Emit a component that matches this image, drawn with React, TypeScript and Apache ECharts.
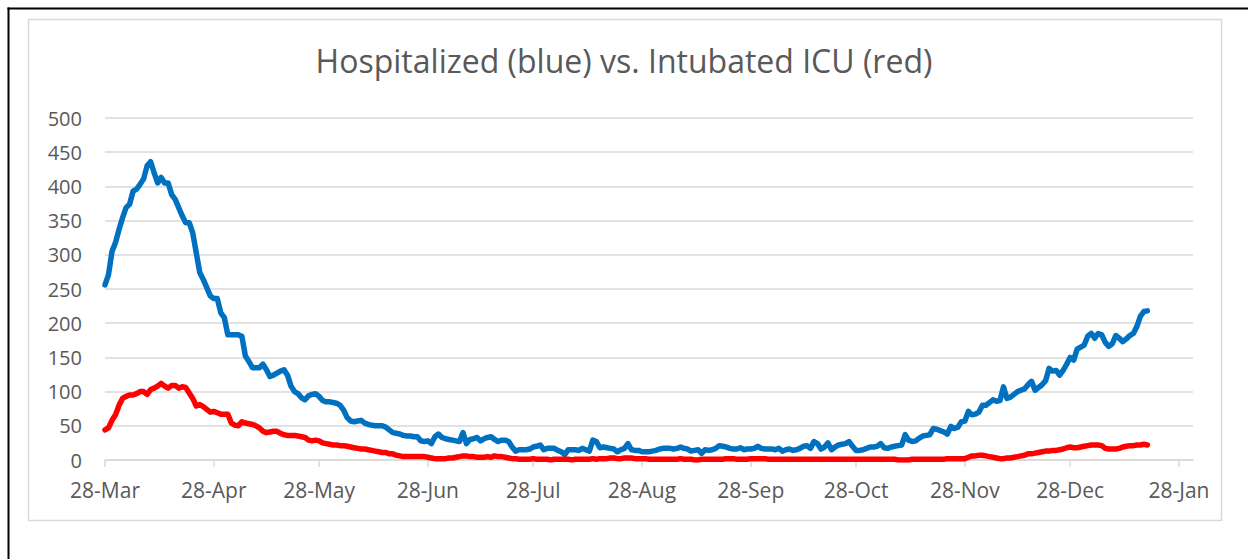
import React, { useEffect, useRef } from "react";
import * as echarts from "echarts";

const titleText = "Hospitalized (blue) vs. Intubated ICU (red)";

// Day offsets from 28-Mar where the x-axis ticks sit, and their labels
const tickDays = [0, 31, 61, 92, 122, 153, 184, 214, 245, 275, 306];
const tickLabels = [
  "28-Mar", "28-Apr", "28-May", "28-Jun", "28-Jul", "28-Aug",
  "28-Sep", "28-Oct", "28-Nov", "28-Dec", "28-Jan",
];
const axisMaxDay = 310;

// Daily values, day 0 = 28-Mar
const hospitalized = [
  256, 271, 305, 318, 337, 354, 369, 374, 393, 396,
  403, 411, 430, 436, 420, 405, 413, 405, 405, 388,
  381, 369, 357, 347, 347, 332, 303, 274, 264, 252,
  240, 236, 236, 215, 208, 183, 183, 183, 183, 181,
  152, 144, 135, 135, 135, 140, 132, 122, 124, 127,
  130, 132, 124, 108, 100, 97, 91, 88, 94, 96,
  97, 93, 87, 85, 85, 84, 83, 80, 73, 62,
  57, 56, 57, 58, 54, 52, 51, 50, 50, 50,
  48, 44, 40, 39, 38, 36, 35, 35, 34, 34,
  28, 27, 28, 24, 34, 38, 33, 31, 30, 29,
  28, 27, 40, 24, 30, 31, 33, 28, 31, 33,
  34, 30, 27, 29, 29, 27, 19, 13, 15, 15,
  15, 16, 19, 20, 22, 15, 17, 17, 17, 14,
  12, 8, 15, 15, 15, 14, 17, 15, 13, 29,
  27, 18, 19, 18, 17, 16, 12, 15, 17, 24,
  15, 14, 14, 12, 12, 12, 13, 14, 16, 17,
  17, 17, 16, 17, 19, 17, 16, 13, 14, 15,
  10, 15, 14, 15, 17, 21, 20, 19, 17, 16,
  16, 18, 15, 16, 16, 17, 20, 17, 16, 16,
  16, 15, 17, 13, 15, 16, 14, 15, 17, 20,
  21, 17, 27, 24, 16, 19, 25, 15, 19, 22,
  23, 24, 27, 20, 14, 14, 15, 17, 19, 19,
  20, 24, 18, 17, 19, 20, 21, 22, 37, 29,
  27, 28, 32, 35, 36, 37, 46, 45, 43, 41,
  38, 49, 46, 48, 56, 57, 71, 66, 67, 70,
  80, 80, 84, 88, 86, 87, 107, 90, 92, 96,
  100, 102, 104, 110, 115, 102, 106, 110, 116, 134,
  130, 131, 124, 131, 140, 150, 146, 162, 165, 168,
  181, 185, 178, 185, 183, 172, 166, 170, 182, 178,
  173, 177, 182, 185, 195, 210, 217, 218,
];

const intubated = [
  44, 47, 58, 66, 80, 90, 93, 95, 95, 97,
  100, 100, 96, 103, 105, 108, 112, 108, 105, 109,
  109, 105, 107, 106, 98, 90, 79, 81, 78, 74,
  70, 71, 69, 67, 67, 67, 54, 51, 50, 56,
  54, 53, 52, 50, 47, 42, 40, 41, 42, 42,
  39, 37, 36, 36, 36, 35, 34, 33, 29, 28,
  29, 28, 25, 24, 23, 22, 22, 21, 21, 20,
  19, 18, 17, 16, 16, 15, 14, 13, 12, 11,
  11, 9, 9, 7, 6, 5, 5, 5, 5, 5,
  5, 5, 4, 3, 2, 2, 2, 2, 3, 3,
  4, 5, 6, 6, 5, 5, 4, 4, 4, 5,
  4, 6, 5, 5, 4, 3, 2, 2, 1,
  1, 1, 1, 2, 1, 1, 1, 1, 0, 1, 1, 1, 1, 1, 0, 1, 1, 1, 1, 1, 2, 1,
  2, 2, 2, 3, 3, 2, 2, 3, 3, 3, 2, 2, 2, 2, 1, 1, 1, 1, 1, 1, 1, 1, 1, 2, 1, 1, 1, 0, 0, 1,
  1, 1, 1, 1, 1, 1, 2, 2, 2, 1, 1, 1, 1, 2, 2, 2, 2, 2, 1, 1, 1, 1, 1, 1, 1, 1, 1, 1, 1, 1,
  1, 1, 1, 1, 1, 1, 1, 1, 1, 1,
  1, 1, 1, 1, 1, 1, 1, 1, 1, 1,
  1, 1, 1, 1, 1, 0, 0, 0, 0, 1,
  1, 1, 1, 1, 1, 1, 1, 1, 1, 2,
  2, 2, 2, 2,
  2, 4, 6, 6, 7, 7, 6, 5, 4, 3,
  2, 2, 3, 3, 4, 5, 6, 7, 9, 9,
  10, 11, 12, 13, 13, 14, 14, 15, 16, 18,
  19, 18, 18, 19, 20, 21, 22, 22, 22, 21,
  17, 16, 16, 16, 17, 19, 20, 21, 21, 22,
  22, 23, 22,
];

const FONT = "'Open Sans', 'Noto Sans', sans-serif";
const TEXT_COLOR = "#595959";
const GRID_COLOR = "#d9d9d9";

export default function App() {
  const ref = useRef<HTMLDivElement>(null);

  useEffect(() => {
    if (!ref.current) return;
    const chart = echarts.init(ref.current, null, { renderer: "svg" });
    const toPairs = (vals: number[]) => vals.map((v, i) => [i, v]);

    chart.setOption({
      animation: false,
      backgroundColor: "#ffffff",
      title: {
        text: titleText,
        left: "center",
        top: 39,
        textStyle: {
          fontFamily: FONT,
          fontSize: 32,
          fontWeight: "normal",
          color: TEXT_COLOR,
        },
      },
      grid: { left: 105, right: 55, top: 118, bottom: 99, containLabel: false },
      xAxis: {
        type: "value",
        min: 0,
        max: axisMaxDay,
        splitLine: { show: false },
        axisLine: { show: true, lineStyle: { color: GRID_COLOR, width: 1.5 } },
        axisTick: {
          show: true,
          customValues: tickDays,
          length: 7,
          lineStyle: { color: GRID_COLOR, width: 1.5 },
        },
        axisLabel: {
          customValues: tickDays,
          formatter: (val: number) => {
            const i = tickDays.indexOf(Math.round(val));
            return i >= 0 ? tickLabels[i] : "";
          },
          margin: 19,
          fontFamily: FONT,
          fontSize: 21,
          color: TEXT_COLOR,
        },
      },
      yAxis: {
        type: "value",
        min: 0,
        max: 500,
        interval: 50,
        axisLine: { show: false },
        axisTick: { show: false },
        splitLine: { show: true, lineStyle: { color: GRID_COLOR, width: 1.5 } },
        axisLabel: {
          margin: 23,
          fontFamily: FONT,
          fontSize: 20,
          color: TEXT_COLOR,
        },
      },
      series: [
        {
          name: "Hospitalized",
          type: "line",
          data: toPairs(hospitalized),
          showSymbol: false,
          symbol: "none",
          lineStyle: { color: "#0070C0", width: 5.5, cap: "round", join: "round" },
          itemStyle: { color: "#0070C0" },
          z: 3,
        },
        {
          name: "Intubated ICU",
          type: "line",
          data: toPairs(intubated),
          showSymbol: false,
          symbol: "none",
          lineStyle: { color: "#FF0000", width: 5.5, cap: "round", join: "round" },
          itemStyle: { color: "#FF0000" },
          z: 4,
        },
      ],
      graphic: [
        {
          type: "rect",
          silent: true,
          shape: { x: 28.5, y: 19.5, width: 1193, height: 501 },
          style: { fill: "none", stroke: GRID_COLOR, lineWidth: 1.5 },
          z: -1,
        },
        {
          type: "line",
          silent: true,
          shape: { x1: 8.5, y1: 7.5, x2: 8.5, y2: 559 },
          style: { stroke: "#000000", lineWidth: 2 },
        },
        {
          type: "line",
          silent: true,
          shape: { x1: 7.5, y1: 8.5, x2: 1248, y2: 8.5 },
          style: { stroke: "#000000", lineWidth: 2 },
        },
      ],
    });

    return () => chart.dispose();
  }, []);

  return (
    <div
      ref={ref}
      style={{ position: "absolute", left: 0, top: 0, width: 1248, height: 559 }}
    />
  );
}
